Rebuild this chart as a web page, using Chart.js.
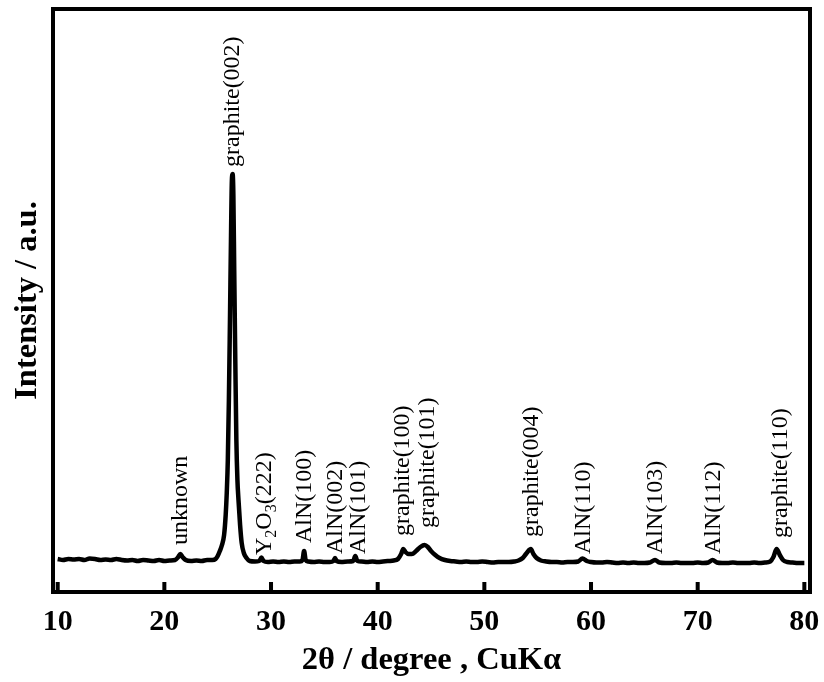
<!DOCTYPE html>
<html>
<head>
<meta charset="utf-8">
<script src="https://cdn.jsdelivr.net/npm/chart.js@4.4.1/dist/chart.umd.min.js"></script>
<style>
  html, body { margin: 0; padding: 0; background: #ffffff; }
  #wrap { width: 824px; height: 682px; }
</style>
</head>
<body>
<div id="wrap"><canvas id="xrd" width="824" height="682"></canvas></div>
<script>
// XRD scan: diffraction angle 2θ (degree) and intensity (a.u.)
const twoTheta = [
  10.0, 10.5, 11.0, 11.5, 12.0, 12.5, 13.0, 13.5, 14.0, 14.5,
  15.0, 15.5, 16.0, 16.5, 17.0, 17.5, 18.0, 18.5, 19.0, 19.5,
  20.0, 20.5, 21.0, 21.3, 21.5, 21.7, 22.0, 22.5, 23.0, 23.5,
  24.0, 24.5, 24.8, 25.0, 25.2, 25.4, 25.6, 25.75, 25.85, 25.95,
  26.05, 26.15, 26.25, 26.33, 26.4, 26.47, 26.55, 26.65, 26.75, 26.85,
  26.95, 27.1, 27.25, 27.45, 27.7, 28.0, 28.5, 28.9, 29.1, 29.3,
  29.7, 30.2, 30.7, 31.2, 31.7, 32.2, 32.7, 32.95, 33.1, 33.25,
  33.5, 34.0, 34.5, 35.0, 35.5, 35.85, 36.0, 36.15, 36.6, 37.2,
  37.7, 37.9, 38.1, 38.5, 39.0, 39.5, 40.0, 40.5, 41.0, 41.5,
  41.9, 42.2, 42.4, 42.6, 42.9, 43.2, 43.6, 44.0, 44.4, 44.7,
  45.0, 45.4, 45.8, 46.3, 46.8, 47.3, 47.8, 48.3, 48.8, 49.3,
  49.8, 50.3, 50.8, 51.3, 51.8, 52.3, 52.8, 53.2, 53.6, 53.9,
  54.2, 54.35, 54.6, 54.9, 55.3, 55.8, 56.3, 56.8, 57.3, 57.8,
  58.3, 58.8, 59.2, 59.6, 60.0, 60.5, 61.0, 61.5, 62.0, 62.5,
  63.0, 63.5, 64.0, 64.5, 65.0, 65.5, 66.0, 66.4, 67.0, 67.5,
  68.0, 68.5, 69.0, 69.5, 70.0, 70.5, 71.0, 71.4, 71.8, 72.3,
  72.8, 73.3, 73.8, 74.3, 74.8, 75.3, 75.8, 76.3, 76.8, 77.1,
  77.4, 77.7, 78.0, 78.4, 78.9, 79.4, 80.0
];
const intensity = [
  33, 32, 33, 32.5, 33, 32, 33.5, 33, 32, 32.5,
  32, 33, 32, 31.5, 32, 31, 32, 31.5, 31, 32,
  31, 31.5, 32, 35, 38, 35, 32, 31, 31.5, 31,
  32, 32, 33, 36, 41, 47, 57, 77, 99, 132,
  192, 272, 357, 412, 418, 397, 322, 232, 152, 112,
  92, 67, 49, 39, 34, 31, 30.5, 31, 34.5, 31,
  30, 30.5, 30, 30.5, 30, 30.5, 30.5, 32, 41, 32,
  30.5, 30, 30.5, 30, 30, 31, 34, 31, 30, 30.5,
  31, 36, 31, 30.5, 30, 30.5, 30, 30.5, 31, 31.5,
  33, 38, 43, 40, 38, 38, 41, 45, 47, 45,
  41, 37, 34, 32, 31, 30.5, 30, 30.5, 30, 30,
  30.5, 30, 29.5, 30, 30, 30, 30.5, 31.5, 34, 38,
  42, 43, 38, 34, 31.5, 30.5, 30, 30, 29.5, 30,
  30, 30.5, 33.5, 31, 30, 29.5, 29.5, 30, 29.5, 29,
  29.5, 29, 29.5, 29, 29, 29.5, 32, 29.5, 29, 29,
  29.5, 29, 29, 29, 29.5, 29, 29.5, 32, 29.5, 29,
  29, 29.5, 29, 29, 29, 29.5, 29, 29.5, 30.5, 35,
  43, 37, 32, 30, 29.5, 29, 29
];

// Axis ticks
const xTicks = [10, 20, 30, 40, 50, 60, 70, 80];

// Peak assignments: text, 2θ position, intensity at the start of the text
const peakLabels = [
  'unknown', 'graphite(002)', 'Y_2O_3(222)', 'AlN(100)', 'AlN(002)', 'AlN(101)',
  'graphite(100)', 'graphite(101)', 'graphite(004)', 'AlN(110)', 'AlN(103)',
  'AlN(112)', 'graphite(110)'
];
const labelTheta = [21.5, 26.4, 29.4, 33.2, 36.1, 38.2, 42.35, 44.7, 54.45, 59.3, 66.1, 71.5, 77.8];
const labelIntensity = [47, 425, 37, 49, 38, 38, 56, 64, 55, 38, 38, 38, 54];

const serif = '"Liberation Serif", "Times New Roman", serif';

// Inward tick marks and the closed frame around the plot area
const framePlugin = {
  id: 'frame',
  afterDraw(chart) {
    const { ctx, chartArea: a, scales } = chart;
    ctx.save();
    ctx.strokeStyle = '#000';
    ctx.lineWidth = 4;
    ctx.beginPath();
    xTicks.forEach(v => {
      const x = scales.x.getPixelForValue(v);
      ctx.moveTo(x, a.bottom);
      ctx.lineTo(x, a.bottom - 10);
    });
    ctx.stroke();
    ctx.strokeRect(a.left, a.top, a.right - a.left, a.bottom - a.top);
    ctx.restore();
  }
};

// Vertical peak labels; "_d" marks a subscript digit
const peakLabelPlugin = {
  id: 'peakLabels',
  afterDatasetsDraw(chart) {
    const { ctx, scales } = chart;
    ctx.save();
    ctx.fillStyle = '#000';
    ctx.textAlign = 'left';
    ctx.textBaseline = 'middle';
    peakLabels.forEach((txt, i) => {
      const x = scales.x.getPixelForValue(labelTheta[i]);
      const y = scales.y.getPixelForValue(labelIntensity[i]);
      ctx.save();
      ctx.translate(x, y);
      ctx.rotate(-Math.PI / 2);
      let pos = 0;
      const parts = txt.split(/(_\d)/).filter(s => s.length);
      parts.forEach(p => {
        if (p[0] === '_') {
          ctx.font = '16px ' + serif;
          ctx.fillText(p.slice(1), pos, 7);
          pos += ctx.measureText(p.slice(1)).width;
        } else {
          ctx.font = '24px ' + serif;
          ctx.fillText(p, pos, 0);
          pos += ctx.measureText(p).width;
        }
      });
      ctx.restore();
    });
    ctx.restore();
  }
};

new Chart(document.getElementById('xrd'), {
  type: 'line',
  data: {
    datasets: [{
      data: twoTheta.map((t, i) => ({ x: t, y: intensity[i] })),
      borderColor: '#000',
      borderWidth: 4.5,
      pointRadius: 0,
      fill: false,
      cubicInterpolationMode: 'monotone'
    }]
  },
  options: {
    responsive: false,
    animation: false,
    devicePixelRatio: 1,
    layout: { padding: { top: 9, right: 14, left: 0, bottom: 0 } },
    plugins: { legend: { display: false }, tooltip: { enabled: false } },
    scales: {
      x: {
        type: 'linear',
        min: 9.56,
        max: 80.53,
        afterBuildTicks: s => { s.ticks = xTicks.map(v => ({ value: v })); },
        afterFit: s => { s.height = 90; s.paddingLeft = 0; s.paddingRight = 0; },
        ticks: {
          color: '#000',
          font: { family: serif, size: 30, weight: 'bold' },
          padding: 12,
          maxRotation: 0,
          autoSkip: false
        },
        grid: { display: false, drawTicks: false, tickLength: 0 },
        border: { display: false },
        title: {
          display: true,
          text: '2θ / degree , CuKα',
          color: '#000',
          font: { family: serif, size: 32.5, weight: 'bold' },
          padding: { top: 0, bottom: 2 }
        }
      },
      y: {
        type: 'linear',
        min: 0,
        max: 583,
        afterFit: s => { s.width = 53; s.paddingTop = 0; s.paddingBottom = 0; },
        ticks: { display: false },
        grid: { display: false, drawTicks: false, tickLength: 0 },
        border: { display: false },
        title: {
          display: true,
          text: 'Intensity / a.u.',
          color: '#000',
          font: { family: serif, size: 32.5, weight: 'bold' },
          padding: { top: 8, bottom: 0 }
        }
      }
    }
  },
  plugins: [framePlugin, peakLabelPlugin]
});
</script>
</body>
</html>
